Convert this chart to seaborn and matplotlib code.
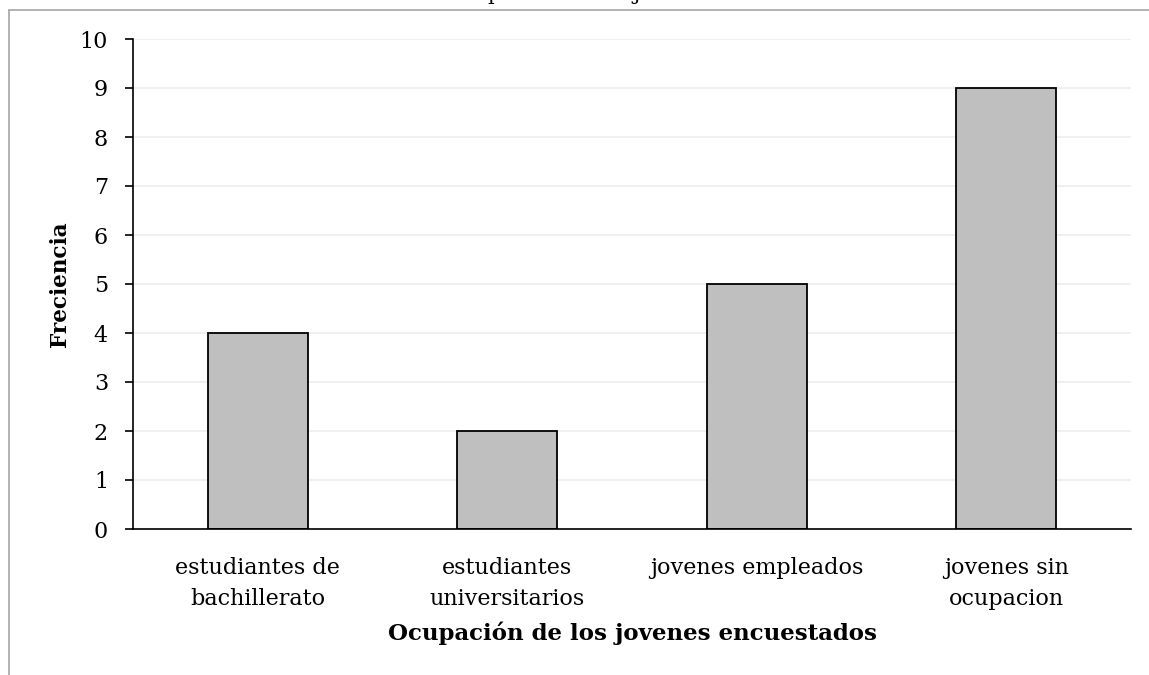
import matplotlib
matplotlib.use("Agg")
import matplotlib.pyplot as plt
from matplotlib.lines import Line2D
import seaborn as sns
import pandas as pd

# Datos
ocupacion = ['estudiantes de\nbachillerato', 'estudiantes\nuniversitarios',
             'jovenes empleados', 'jovenes sin\nocupacion']
frecuencia = [4, 2, 5, 9]
y_ticks = list(range(0, 11))

df = pd.DataFrame({'Ocupacion': ocupacion, 'Frecuencia': frecuencia})

sns.set_style('white')
plt.rcParams['font.family'] = ['DejaVu Serif']
plt.rcParams['text.color'] = 'black'
plt.rcParams['axes.labelcolor'] = 'black'
plt.rcParams['xtick.color'] = 'black'
plt.rcParams['ytick.color'] = 'black'

fig = plt.figure(figsize=(11.49, 6.75), dpi=100)
ax = fig.add_axes([133 / 1149, 1 - 529 / 675, (1131 - 133) / 1149, (529 - 39) / 675])

sns.barplot(data=df, x='Ocupacion', y='Frecuencia', color='#bfbfbf',
            edgecolor='black', linewidth=1.3, width=0.4, saturation=1, ax=ax)

ax.set_xlim(-0.5, len(ocupacion) - 0.5)
ax.set_ylim(0, 10)
ax.set_yticks(y_ticks)
ax.grid(axis='y', color='#eeeeee', linewidth=1.2)
ax.set_axisbelow(True)

for s in ['top', 'right']:
    ax.spines[s].set_visible(False)
for s in ['left', 'bottom']:
    ax.spines[s].set_color('black')
    ax.spines[s].set_linewidth(1.2)

ax.set_xticks([i - 0.5 for i in range(len(ocupacion) + 1)], minor=True)
ax.tick_params(axis='x', which='major', length=0, pad=20, labelsize=16)
ax.tick_params(axis='x', which='minor', length=6, width=1.2, color='black', direction='out')
ax.tick_params(axis='y', length=6, width=1.2, color='black', direction='out', labelsize=16, pad=12)
ax.tick_params(axis='both', bottom=True, left=True)
for lbl in ax.get_xticklabels():
    lbl.set_linespacing(1.55)

ax.set_xlabel('Ocupación de los jovenes encuestados', fontsize=16.5, fontweight='bold', labelpad=8)
ax.set_ylabel('Freciencia', fontsize=15.5, fontweight='bold', labelpad=6)

# titulo recortado en la parte superior
fig.text(0.505, 1.0, 'Ocupación de los jovenes', ha='center', va='baseline', fontsize=15)

# borde del area del grafico
fig.add_artist(Line2D([9 / 1149, 1], [1 - 9.5 / 675, 1 - 9.5 / 675], color='#a6a6a6', linewidth=1.2))
fig.add_artist(Line2D([9 / 1149, 9 / 1149], [0, 1 - 9.5 / 675], color='#a6a6a6', linewidth=1.2))

fig.savefig('out.png', dpi=100)
